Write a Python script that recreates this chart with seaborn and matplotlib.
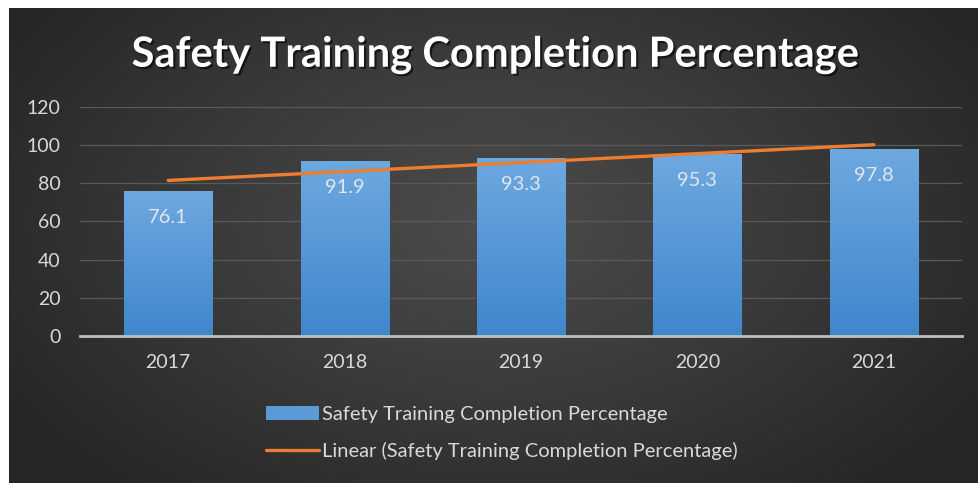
import numpy as np
import pandas as pd
import matplotlib
matplotlib.use("Agg")
import matplotlib.pyplot as plt
import matplotlib.patheffects as pe
from matplotlib.colors import LinearSegmentedColormap
import seaborn as sns

years = ["2017", "2018", "2019", "2020", "2021"]
values = [76.1, 91.9, 93.3, 95.3, 97.8]
series_name = "Safety Training Completion Percentage"
trend_name = "Linear (Safety Training Completion Percentage)"
title = "Safety Training Completion Percentage"
yticks = [0, 20, 40, 60, 80, 100, 120]

sns.set_theme(style="dark")
plt.rcParams["font.family"] = ["Lato", "DejaVu Sans"]

W, H = 979, 483
fig = plt.figure(figsize=(W / 100, H / 100), dpi=100)
fig.patch.set_facecolor("white")

# background radial gradient
bg = fig.add_axes([9 / W, 0, (W - 9) / W, (H - 8) / H])
ny, nx = 200, 400
yy, xx = np.mgrid[0:1:ny * 1j, 0:1:nx * 1j]
r = np.sqrt(((xx - 0.5) / 0.6) ** 2 + ((yy - 0.45) / 0.75) ** 2)
r = np.clip(r, 0, 1)
cmap_bg = LinearSegmentedColormap.from_list("bg", ["#4c4c4c", "#3a3a3a", "#262626"])
bg.imshow(r, cmap=cmap_bg, aspect="auto", extent=[0, 1, 0, 1], origin="upper", vmin=0, vmax=1)
bg.set_axis_off()

ax = fig.add_axes([80 / W, 1 - 336 / H, (962 - 80) / W, (336 - 107) / H])
ax.set_facecolor("none")

df = pd.DataFrame({"Year": years, "Value": values})
sns.barplot(data=df, x="Year", y="Value", color="#5b9bd5", width=0.5, ax=ax,
            zorder=3, saturation=1, label=series_name)

# gradient fill on bars
grad = np.linspace(0, 1, 100).reshape(-1, 1)
cmap_bar = LinearSegmentedColormap.from_list("bar", ["#6ea8e0", "#3f87cc"])
for p in ax.patches:
    x0, y0 = p.get_x(), p.get_y()
    w, h = p.get_width(), p.get_height()
    im = ax.imshow(grad, cmap=cmap_bar, aspect="auto", extent=[x0, x0 + w, y0, y0 + h],
                   origin="upper", zorder=3.5)
    im.set_clip_path(p)
    p.set_edgecolor("none")

# trend line
xs = np.arange(len(values))
coef = np.polyfit(xs, values, 1)
ax.plot(xs, np.polyval(coef, xs), color="#ed7d31", lw=2.4, zorder=5,
        solid_capstyle="round", label=trend_name)

# labels
for i, v in enumerate(values):
    ax.annotate(f"{v}", (i, v), xytext=(0, -19), textcoords="offset points",
                ha="center", va="center", color="#dfe6ee", fontsize=14.5, zorder=6)

ax.set_xlim(-0.5, len(values) - 0.5)
ax.set_ylim(0, 120)
ax.set_yticks(yticks)
ax.yaxis.grid(True, color="#5a5a5a", lw=0.9, zorder=0)
ax.xaxis.grid(False)
for s in ["top", "right", "left"]:
    ax.spines[s].set_visible(False)
ax.spines["bottom"].set_color("#bfbfbf")
ax.spines["bottom"].set_linewidth(2)
ax.spines["bottom"].set_zorder(6)
ax.tick_params(axis="both", colors="#d9d9d9", labelsize=14, length=0)
ax.tick_params(axis="y", pad=14)
ax.tick_params(axis="x", pad=13)
ax.set_xlabel("")
ax.set_ylabel("")
if ax.get_legend():
    ax.get_legend().remove()

fig.text(495 / W, 1 - 55 / H, title, ha="center", va="center", fontsize=30,
         fontweight="bold", color="white",
         path_effects=[pe.withSimplePatchShadow(offset=(1.5, -1.5), shadow_rgbFace="black", alpha=0.6)])

handles, labels = ax.get_legend_handles_labels()
order = [labels.index(series_name), labels.index(trend_name)]
leg = fig.legend([handles[i] for i in order], [labels[i] for i in order], loc="center",
                 bbox_to_anchor=(502 / W, 1 - 433 / H),
                 frameon=False, fontsize=14.5, labelcolor="#d9d9d9", handlelength=2.6,
                 handletextpad=0.15, labelspacing=0.95)

fig.savefig("out.png", dpi=100)
